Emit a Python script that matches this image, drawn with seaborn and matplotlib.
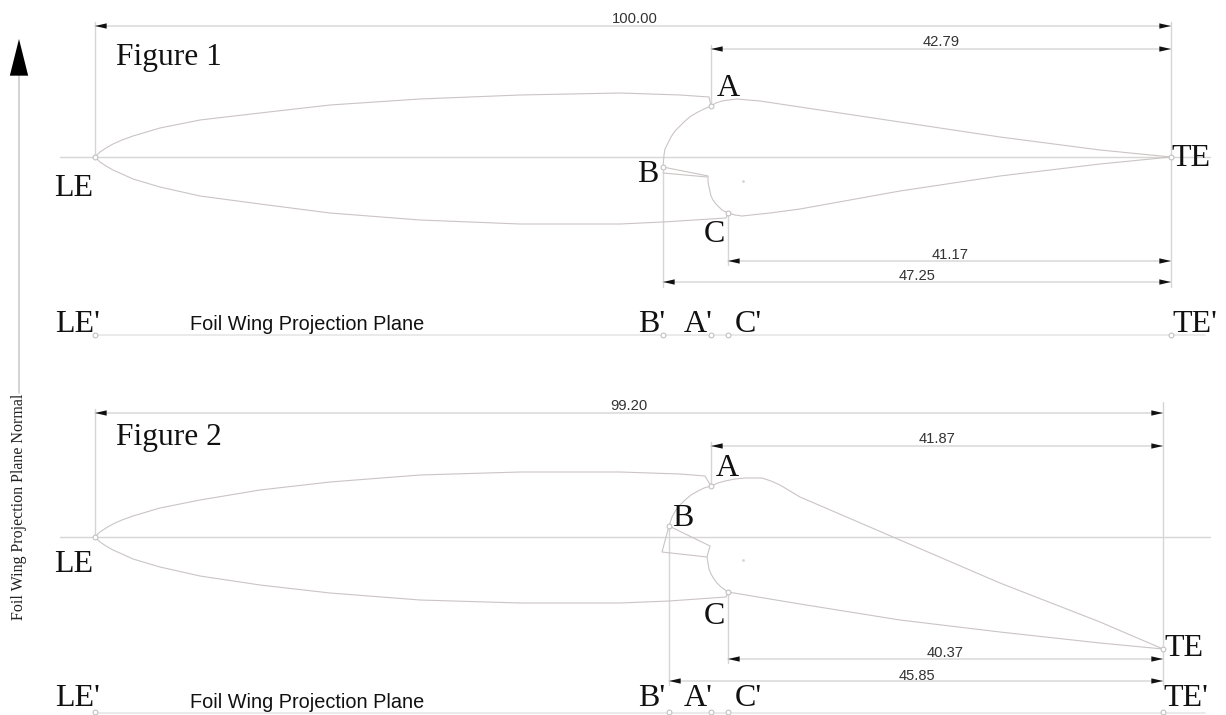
#!/usr/bin/env python3

import pandas as pd
import seaborn as sns
import matplotlib
matplotlib.use("Agg")
import matplotlib.pyplot as plt

# outlines (pixel coordinates of the drawing)
f1_upper_x = [95, 100, 106, 113, 122, 133, 160, 200, 260, 330, 420, 520, 620, 680, 709, 711]
f1_upper_y = [157, 152, 148, 144, 140, 136, 128, 120, 113, 105, 99, 95, 93, 95, 97, 106]
f1_lower_x = [95, 100, 106, 113, 122, 133, 160, 200, 260, 330, 420, 520, 620, 663, 726, 728]
f1_lower_y = [157, 162, 166, 170, 174, 179, 187, 196, 204, 213, 220, 224, 224, 222, 218, 213]
f1_nose_x = [711, 704, 698, 691, 685, 680, 675, 671, 668, 665, 664, 663]
f1_nose_y = [106, 109, 112, 116, 121, 126, 131, 137, 143, 149, 155, 167]
f1_flap_x = [663, 708, 708, 709, 711, 713, 716, 719, 722, 728]
f1_flap_y = [167, 176, 182, 187, 196, 200, 204, 207, 210, 213]
f1_slot_x = [663, 707]
f1_slot_y = [173, 177]
f1_top_x = [711, 716, 722, 729, 737, 748, 760, 800, 900, 1000, 1100, 1171]
f1_top_y = [106, 103, 101, 100, 99, 100, 101, 107, 122, 137, 150, 157]
f1_bot_x = [728, 735, 742, 770, 800, 900, 1000, 1100, 1171]
f1_bot_y = [213, 215, 216, 213, 209, 191, 176, 164, 157]

f2_upper_x = [95, 100, 106, 113, 122, 133, 160, 200, 260, 330, 420, 520, 620, 680, 705, 711]
f2_upper_y = [537, 532, 528, 524, 520, 516, 508, 500, 490, 482, 475, 472, 472, 474, 476, 486]
f2_lower_x = [95, 100, 106, 113, 122, 133, 160, 200, 260, 330, 420, 520, 620, 669, 726, 728]
f2_lower_y = [537, 542, 546, 550, 554, 559, 567, 576, 585, 593, 600, 603, 603, 601, 597, 592]
f2_nose_x = [711, 704, 698, 691, 685, 680, 676, 672, 669]
f2_nose_y = [486, 488, 491, 495, 500, 505, 510, 517, 526]
f2_flap_x = [669, 710, 707, 708, 709, 711, 714, 717, 721, 728]
f2_flap_y = [526, 546, 557, 563, 569, 574, 579, 583, 587, 592]
f2_slot_x = [669, 662, 707]
f2_slot_y = [526, 552, 557]
f2_top_x = [711, 718, 725, 735, 745, 753, 762, 771, 780, 800, 900, 1000, 1100, 1163]
f2_top_y = [486, 483, 481, 479, 478, 478, 478, 481, 485, 497, 540, 583, 622, 649]
f2_bot_x = [728, 800, 900, 1000, 1100, 1163]
f2_bot_y = [592, 604, 620, 632, 643, 649]

# dimensions: label, start, end, height, and where the label sits
dim_labels = ["100.00", "42.79", "41.17", "47.25", "99.20", "41.87", "40.37", "45.85"]
dim_start = [95, 711, 728, 663, 95, 711, 728, 669]
dim_end = [1171, 1171, 1171, 1171, 1163, 1163, 1163, 1163]
dim_y = [26, 49, 261, 282, 413, 446, 659, 681]
dim_label_x = [635, 941, 950, 917, 629, 937, 945, 917]
dim_label_y = [19, 42, 255, 276, 406, 439, 653, 676]

# thin construction lines
guide_x0 = [60, 95, 711, 1171, 728, 663, 60, 95, 711, 1163, 728, 669]
guide_y0 = [157, 22, 45, 22, 213, 167, 537, 409, 442, 402, 592, 526]
guide_x1 = [1210, 95, 711, 1171, 728, 663, 1210, 95, 711, 1163, 728, 669]
guide_y1 = [157, 157, 106, 287, 265, 287, 537, 537, 486, 685, 663, 685]

# projection planes
plane_x0 = [95, 95]
plane_x1 = [1205, 1205]
plane_y = [335, 713]

# reference points
point_x = [95, 711, 663, 728, 1171, 95, 663, 711, 728, 1171,
           95, 711, 669, 728, 1163, 95, 669, 711, 728, 1163]
point_y = [157, 106, 167, 213, 157, 335, 335, 335, 335, 335,
           537, 486, 526, 592, 649, 712, 712, 712, 712, 712]
pivot_x = [743, 743]
pivot_y = [181, 560]

# point labels
serif_labels = ["A", "B", "C", "LE", "TE", "LE'", "B'", "A'", "C'", "TE'",
                "A", "B", "C", "LE", "TE", "LE'", "B'", "A'", "C'", "TE'"]
serif_x = [728, 648, 714, 74, 1191, 78, 652, 698, 748, 1195,
           727, 683, 714, 74, 1184, 78, 652, 698, 748, 1186]
serif_y = [89, 175, 235, 188, 159, 325, 325, 325, 325, 325,
           468, 519, 617, 564, 649, 699, 699, 699, 699, 699]

GREY = "#d6d6d6"
CURVE = "#cbc4c4"

sns.set_theme(style="white")
fig, ax = plt.subplots(figsize=(12.26, 7.15), dpi=100)
fig.subplots_adjust(left=0, right=1, bottom=0, top=1)


def draw(x, y, color=CURVE, lw=0.8):
    df = pd.DataFrame({"x": x, "y": y})
    sns.lineplot(data=df, x="x", y="y", sort=False, estimator=None,
                 color=color, lw=lw, ax=ax)


for x0, y0, x1, y1 in zip(guide_x0, guide_y0, guide_x1, guide_y1):
    draw([x0, x1], [y0, y1], GREY, 1.0)
for x0, x1, y in zip(plane_x0, plane_x1, plane_y):
    draw([x0, x1], [y, y], "#e6e6e6", 1.2)

for x, y in [(f1_upper_x, f1_upper_y), (f1_lower_x, f1_lower_y),
             (f1_nose_x, f1_nose_y), (f1_flap_x, f1_flap_y),
             (f1_slot_x, f1_slot_y), (f1_top_x, f1_top_y), (f1_bot_x, f1_bot_y),
             (f2_upper_x, f2_upper_y), (f2_lower_x, f2_lower_y),
             (f2_nose_x, f2_nose_y), (f2_flap_x, f2_flap_y),
             (f2_slot_x, f2_slot_y), (f2_top_x, f2_top_y), (f2_bot_x, f2_bot_y)]:
    draw(x, y)

sns.scatterplot(x=point_x, y=point_y, s=12, color="white", edgecolor="#c2c2c2",
                linewidth=0.8, ax=ax, zorder=3)
sns.scatterplot(x=pivot_x, y=pivot_y, s=4, color="#d4d4d4", linewidth=0, ax=ax, zorder=3)

# dimension lines with their arrow heads
for x0, x1, y in zip(dim_start, dim_end, dim_y):
    draw([x0, x1], [y, y], "#dcdcdc", 1.2)
    for tip, tail in [(x0, x0 + 12), (x1, x1 - 12)]:
        ax.annotate("", xy=(tip, y), xytext=(tail, y),
                    arrowprops=dict(arrowstyle="-|>,head_length=0.7,head_width=0.16",
                                    color="#111111", lw=0, shrinkA=0, shrinkB=0))
for label, x, y in zip(dim_labels, dim_label_x, dim_label_y):
    ax.text(x, y, label, family="Liberation Sans", fontsize=10.6, color="#333333",
            ha="center", va="center")

for s, x, y in zip(serif_labels, serif_x, serif_y):
    ax.text(x, y, s, family="Liberation Serif", fontsize=23, color="#111111",
            ha="center", va="center")

ax.text(116, 58, "Figure 1", family="Liberation Serif", fontsize=22.6, color="#111111", va="center")
ax.text(116, 438, "Figure 2", family="Liberation Serif", fontsize=22.6, color="#111111", va="center")
ax.text(190, 325, "Foil Wing Projection Plane", family="Liberation Sans", fontsize=14.3,
        color="#111111", va="center")
ax.text(190, 703, "Foil Wing Projection Plane", family="Liberation Sans", fontsize=14.3,
        color="#111111", va="center")

# plane normal arrow on the left
draw([19, 19], [70, 393], "#c8c8c8", 1.1)
ax.annotate("", xy=(19, 39), xytext=(19, 71),
            arrowprops=dict(arrowstyle="-|>,head_length=2.2,head_width=0.55",
                            color="black", lw=0, shrinkA=0, shrinkB=0))
ax.text(19, 507, "Foil Wing Projection Plane Normal", family="Liberation Serif",
        fontsize=11.5, color="#222222", rotation=90, ha="center", va="center")

ax.set_xlim(0, 1226)
ax.set_ylim(715, 0)
ax.axis("off")

fig.savefig("out.png", dpi=100, facecolor="white")
